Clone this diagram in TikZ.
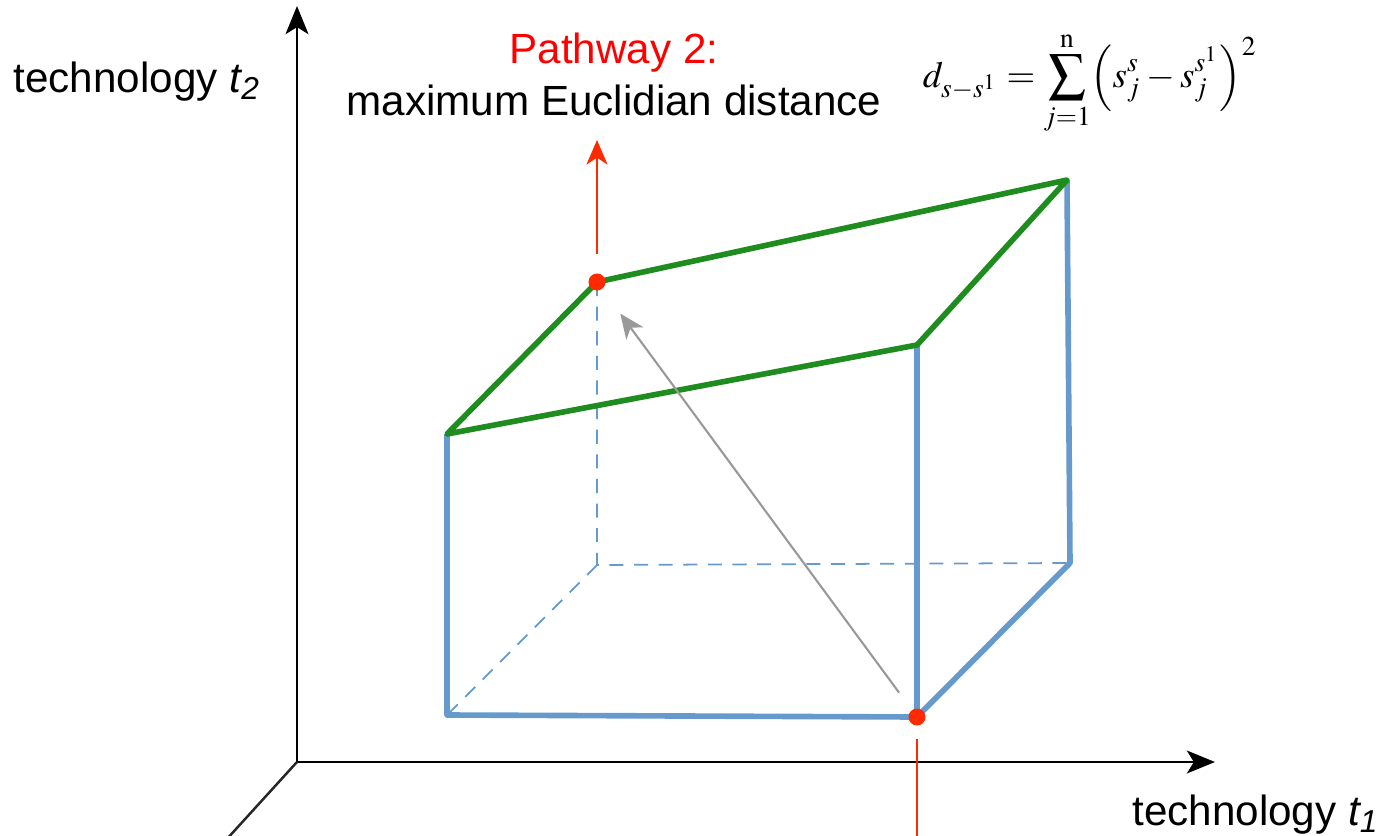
\documentclass[tikz,border=0pt]{standalone}
\usepackage{mathptmx}
\usepackage[no-math]{fontspec}
\setmainfont{Liberation Sans}
\usepackage{tikz}
\usetikzlibrary{arrows.meta}
\definecolor{boxblue}{HTML}{6699CC}
\definecolor{topgreen}{HTML}{1E8C1E}
\definecolor{dotred}{HTML}{FF2A00}
\definecolor{gapgray}{HTML}{999999}

\begin{document}
\begin{tikzpicture}[
    x=0.01cm,y=-0.01cm,
    font=\fontsize{12}{14.5}\selectfont,
    lbl/.style={inner sep=0pt},
    axis/.style={line width=0.7pt,-{Stealth[length=8pt,width=6.5pt,inset=2pt]}},
    axisline/.style={line width=0.7pt,draw=black!85},
    edge/.style={draw=boxblue,line width=1.6pt,line join=round},
    hidden/.style={draw=boxblue,line width=0.5pt,dash pattern=on 4pt off 3pt},
    top/.style={draw=topgreen,line width=1.6pt,line join=round},
    dot/.style={circle,fill=dotred,inner sep=0pt,minimum size=0.17cm},
    gap/.style={draw=gapgray,line width=0.6pt,-{Stealth[length=7pt,width=6pt,inset=2pt]}},
    redarr/.style={draw=dotred,line width=0.6pt,-{Stealth[length=7pt,width=6pt,inset=2pt]}},
    redline/.style={draw=dotred,line width=0.6pt}
  ]
  \useasboundingbox (0,0) rectangle (1384,836);

  % axes
  \coordinate (o) at (297,762);
  \coordinate (t2end) at (297,6);
  \coordinate (t1end) at (1215,762);
  \coordinate (t3end) at (226,840);
  \draw[axis] (o) -- (t2end);
  \draw[axis] (o) -- (t1end);
  \draw[axisline] (o) -- (t3end);
  \node[lbl,anchor=base west] (t2lbl) at (13,92) {technology \textit{t\textsubscript{2}}};
  \node[lbl,anchor=base east] (t1lbl) at (1380,825) {technology \textit{t\textsubscript{1}}};

  % corners of the box
  \coordinate (fbl) at (447,715);
  \coordinate (fbr) at (917,717);
  \coordinate (bbr) at (1070,563);
  \coordinate (bbl) at (597,565);
  \coordinate (ftl) at (447,434);
  \coordinate (ftr) at (917,345);
  \coordinate (btr) at (1067,180);
  \coordinate (btl) at (597,282);

  % hidden edges
  \draw[hidden] (btl) -- (bbl) -- (bbr);
  \draw[hidden] (bbl) -- (fbl);

  % visible edges and the top face
  \draw[edge] (ftl) -- (fbl) -- (fbr) -- (ftr);
  \draw[edge] (fbr) -- (bbr) -- (btr);
  \draw[top] (ftl) -- (btl) -- (btr) -- (ftr) -- cycle;

  % the two states
  \node[dot] (s1) at (fbr) {};
  \node[dot] (s2) at (btl) {};
  \draw[gap,shorten <=0.21cm,shorten >=0.30cm] (s1) -- (s2);

  \coordinate (up) at (597,140);
  \coordinate (down) at (917,840);
  \draw[redarr,shorten <=0.19cm] (s2) -- (up);
  \draw[redline,shorten <=0.13cm] (s1) -- (down);

  \node[lbl,anchor=base,text=red] (p2) at (614,63) {Pathway 2:};
  \node[lbl,anchor=base] (p2txt) at (614,115) {maximum Euclidian distance};

  \node[font=\fontsize{10.5}{12}\selectfont] (dist) at (1090,83) {$d_{s-s^{1}} = \displaystyle\sum_{j=1}^{\mathrm{n}}\Bigl(s_j^{s}-s_j^{s^{1}}\Bigr)^{2}$};
\end{tikzpicture}
\end{document}
